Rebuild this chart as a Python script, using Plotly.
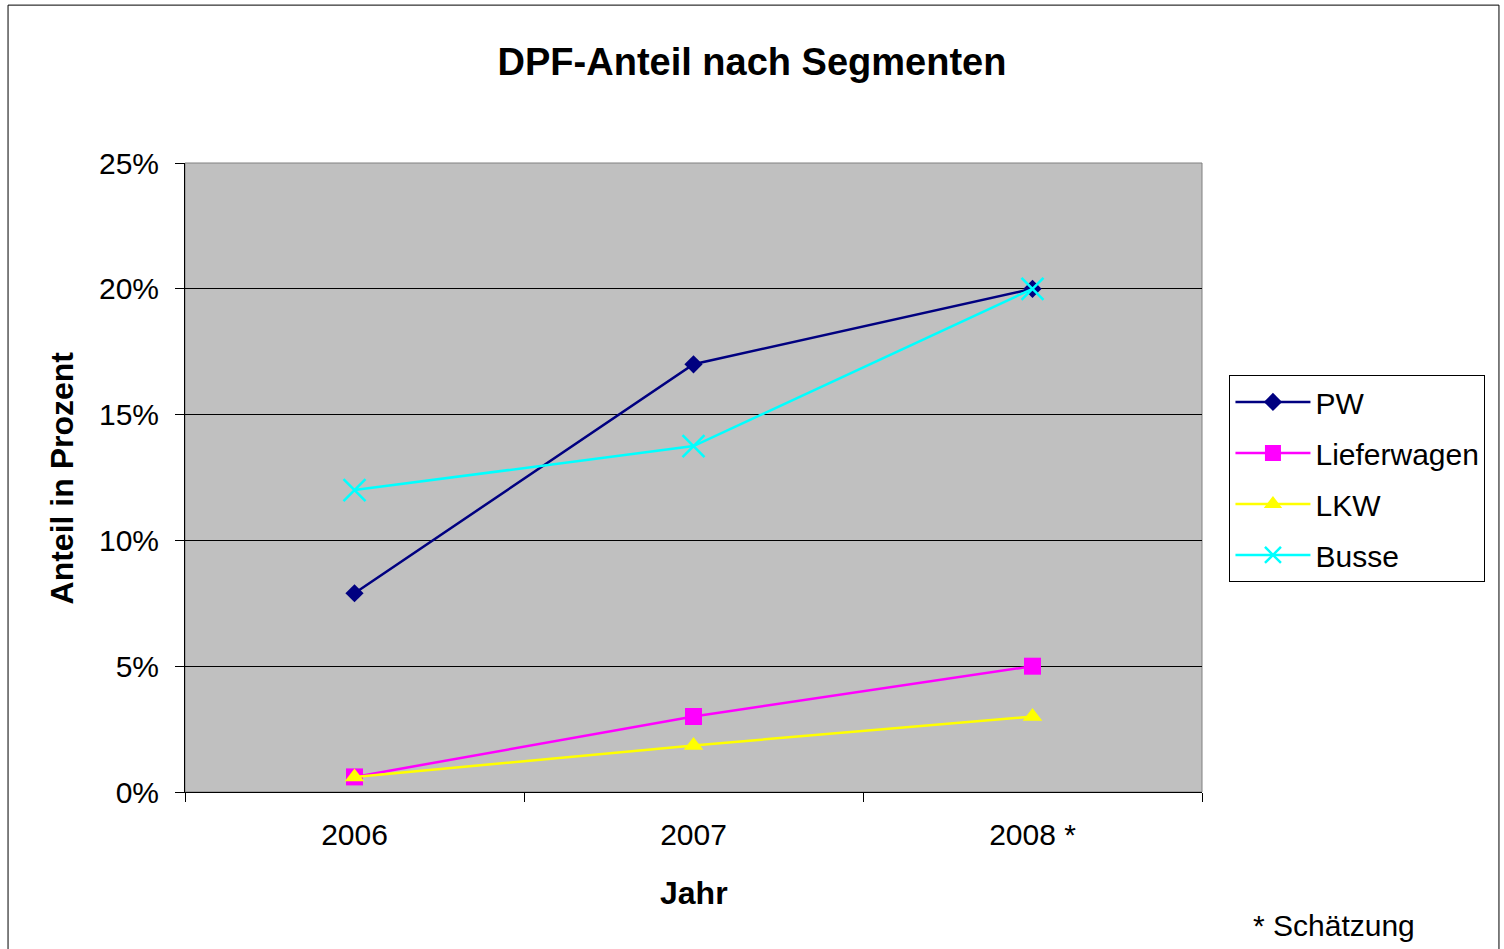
import plotly.graph_objects as go

jahre = ["2006", "2007", "2008 *"]
pw = [0.079, 0.17, 0.20]
lieferwagen = [0.006, 0.030, 0.050]
lkw = [0.006, 0.0185, 0.030]
busse = [0.120, 0.1375, 0.20]

FONT = "Liberation Sans, Arial, sans-serif"

series = [
    ("PW", pw, "#000080", "diamond", 14),
    ("Lieferwagen", lieferwagen, "#FF00FF", "square", 17),
    ("LKW", lkw, "#FFFF00", "triangle-up", 17),
    ("Busse", busse, "#00FFFF", "x-thin-open", 22),
]

fig = go.Figure()
for name, vals, color, symbol, size in series:
    fig.add_trace(go.Scatter(
        x=jahre,
        y=vals,
        name=name,
        legendgroup=name,
        mode="lines+markers",
        line=dict(color=color, width=2.5),
        marker=dict(symbol=symbol, size=size, color=color,
                    line=dict(color=color, width=2.5 if "open" in symbol else 0)),
    ))

fig.update_layout(
    width=1504,
    height=949,
    margin=dict(l=185, r=302, t=163, b=157),
    paper_bgcolor="white",
    plot_bgcolor="#C0C0C0",
    font=dict(family=FONT, size=30, color="black"),
    title=dict(text="<b>DPF-Anteil nach Segmenten</b>", x=0.5, xanchor="center",
               y=1 - 62 / 949, yanchor="middle",
               font=dict(family=FONT, size=38, color="black")),
    legend=dict(x=1.027, y=0.663, xanchor="left", yanchor="top",
                bgcolor="white", bordercolor="black", borderwidth=1,
                font=dict(family=FONT, size=30), traceorder="grouped",
                tracegroupgap=9, itemwidth=75),
    showlegend=True,
)

fig.update_xaxes(
    type="category",
    range=[-0.5, 2.5],
    tickson="boundaries",
    ticks="outside",
    ticklen=9,
    tickcolor="black",
    showline=True,
    linecolor="black",
    linewidth=1,
    showgrid=False,
    ticklabelstandoff=16,
    tickfont=dict(family=FONT, size=30),
)
fig.update_yaxes(
    range=[0, 0.25],
    dtick=0.05,
    tickformat=".0%",
    ticks="outside",
    ticklen=9,
    tickcolor="black",
    showline=True,
    linecolor="black",
    linewidth=1,
    showgrid=True,
    gridcolor="black",
    gridwidth=1,
    zeroline=False,
    ticklabelstandoff=10,
    tickfont=dict(family=FONT, size=30),
)

# Axis titles and footnote
fig.add_annotation(text="<b>Jahr</b>", xref="paper", yref="paper", x=0.5, y=-0.1606,
                   xanchor="center", yanchor="middle", showarrow=False,
                   font=dict(family=FONT, size=32))
fig.add_annotation(text="<b>Anteil in Prozent</b>", xref="paper", yref="paper",
                   x=-0.121, y=0.5, xanchor="center", yanchor="middle",
                   textangle=-90, showarrow=False, font=dict(family=FONT, size=32))
fig.add_annotation(text="* Schätzung", xref="paper", yref="paper", x=1.1298, y=-0.213,
                   xanchor="center", yanchor="middle", showarrow=False,
                   font=dict(family=FONT, size=30))

# plot-area border (gray) and outer chart border
fig.add_shape(type="rect", xref="paper", yref="paper", x0=0, x1=1, y0=0, y1=1,
              line=dict(color="#808080", width=1), layer="below")
fig.add_shape(type="rect", xref="paper", yref="paper", x0=-0.174, x1=1.292,
              y0=-0.3, y1=1.251, line=dict(color="black", width=1))

# drop the default page margin so the figure sits at the window's corner
fig.write_html(
    "out.html",
    config={"displayModeBar": False},
    post_script="document.body.style.margin='0';document.body.style.overflow='hidden';",
)
